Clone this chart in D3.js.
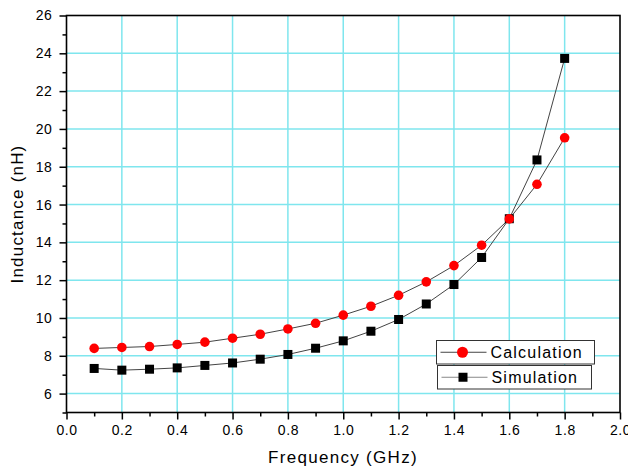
<!DOCTYPE html>
<html>
<head>
<meta charset="utf-8">
<script src="https://cdn.jsdelivr.net/npm/d3@7"></script>
<style>
  body { margin: 0; background: #fff; }
  svg { font-family: "Liberation Sans", Arial, sans-serif; }
</style>
</head>
<body>
<svg id="graph" width="628" height="466"></svg>
<script>
// data
var freq = [0.1, 0.2, 0.3, 0.4, 0.5, 0.6, 0.7, 0.8, 0.9, 1.0, 1.1, 1.2, 1.3, 1.4, 1.5, 1.6, 1.7, 1.8];
var calculation = [8.39, 8.44, 8.49, 8.6, 8.72, 8.93, 9.14, 9.42, 9.72, 10.15, 10.62, 11.2, 11.91, 12.77, 13.85, 15.24, 17.07, 19.53];
var simulation = [7.33, 7.24, 7.29, 7.36, 7.49, 7.62, 7.82, 8.07, 8.4, 8.79, 9.3, 9.92, 10.74, 11.77, 13.2, 15.25, 18.36, 23.73];
var xTicks = [0.0, 0.2, 0.4, 0.6, 0.8, 1.0, 1.2, 1.4, 1.6, 1.8, 2.0];
var yTicks = [6, 8, 10, 12, 14, 16, 18, 20, 22, 24, 26];
var seriesNames = ['Calculation', 'Simulation'];

var svg = d3.select('#graph');
var mLeft = 66.5, mRight = 620, mTop = 15.5, mBottom = 412.5;

var xScale = d3.scaleLinear().domain([0, 2]).range([mLeft, mRight]);
var yScale = d3.scaleLinear().domain([5, 26]).range([mBottom, mTop]);

/*************************************************************************/
// grid

var grid = svg.append('g');
grid.selectAll('line.gx').data(xTicks.slice(1, -1)).enter().append('line')
  .attr('class', 'gx')
  .attr('x1', d => xScale(d)).attr('x2', d => xScale(d))
  .attr('y1', mTop).attr('y2', mBottom)
  .style('stroke', '#7fe6ee').style('stroke-width', 1.5);
grid.selectAll('line.gy').data(yTicks.slice(0, -1)).enter().append('line')
  .attr('class', 'gy')
  .attr('x1', mLeft).attr('x2', mRight)
  .attr('y1', d => yScale(d)).attr('y2', d => yScale(d))
  .style('stroke', '#7fe6ee').style('stroke-width', 1.5);

/*************************************************************************/
// axes

var xAxis = d3.axisBottom(xScale).tickValues(xTicks).tickFormat(d3.format('.1f')).tickSize(7).tickPadding(6);
var xMinor = d3.axisBottom(xScale).tickValues(d3.range(1, 20, 2).map(d => d / 10)).tickFormat('').tickSize(4);
var yAxis = d3.axisLeft(yScale).tickValues(yTicks).tickFormat(d3.format('d')).tickSize(7).tickPadding(7);
var yMinor = d3.axisLeft(yScale).tickValues(d3.range(5, 26, 2)).tickFormat('').tickSize(4);

function styleAxis(g){
  g.select('.domain').remove();
  g.selectAll('.tick line').style('stroke', '#000').style('stroke-width', 1.5);
  g.selectAll('.tick text').style('font-size', '14px').style('fill', '#000')
    .style('letter-spacing', '0.6px').style('font-family', '"Liberation Sans", Arial, sans-serif');
}

svg.append('g').attr('transform', 'translate(0,' + mBottom + ')').call(xAxis).call(styleAxis);
svg.append('g').attr('transform', 'translate(0,' + mBottom + ')').call(xMinor).call(styleAxis);
svg.append('g').attr('transform', 'translate(' + mLeft + ',0)').call(yAxis).call(styleAxis);
svg.append('g').attr('transform', 'translate(' + mLeft + ',0)').call(yMinor).call(styleAxis);

svg.append('rect')
  .attr('x', mLeft).attr('y', mTop).attr('width', mRight - mLeft).attr('height', mBottom - mTop)
  .style('fill', 'none').style('stroke', '#000').style('stroke-width', 1.6);

svg.append('text').attr('x', 343).attr('y', 463)
  .attr('text-anchor', 'middle').style('font-size', '17px').style('letter-spacing', '1.3px')
  .text('Frequency (GHz)');
svg.append('text').attr('transform', 'translate(23,' + (mTop + mBottom) / 2 + ') rotate(-90)')
  .attr('text-anchor', 'middle').style('font-size', '17px').style('letter-spacing', '1.2px')
  .text('Inductance (nH)');

/*************************************************************************/
// series

var lineGen = d3.line();
var calcPts = freq.map((f, i) => [xScale(f), yScale(calculation[i])]);
var simPts = freq.map((f, i) => [xScale(f), yScale(simulation[i])]);

svg.append('path').attr('d', lineGen(simPts))
  .style('stroke', '#444').style('stroke-width', 1).style('fill', 'none');
svg.append('path').attr('d', lineGen(calcPts))
  .style('stroke', '#444').style('stroke-width', 1).style('fill', 'none');

svg.selectAll('rect.sim').data(simPts).enter().append('rect')
  .attr('class', 'sim')
  .attr('x', d => d[0] - 4.5).attr('y', d => d[1] - 4.5)
  .attr('width', 9).attr('height', 9)
  .style('fill', '#000');
svg.selectAll('circle.calc').data(calcPts).enter().append('circle')
  .attr('class', 'calc')
  .attr('cx', d => d[0]).attr('cy', d => d[1]).attr('r', 4.8)
  .style('fill', '#ff0000');

/*************************************************************************/
// legend

var legendBoxes = [
  { x: 436.5, y: 340.5, w: 158, h: 23.5 },
  { x: 437.5, y: 365.5, w: 154, h: 23.5 }
];
var legend = svg.append('g');
seriesNames.forEach((name, i) => {
  var b = legendBoxes[i];
  var cy = b.y + b.h / 2;
  legend.append('rect').attr('x', b.x).attr('y', b.y).attr('width', b.w).attr('height', b.h)
    .style('fill', '#fff').style('stroke', '#333').style('stroke-width', 1);
  legend.append('line').attr('x1', b.x + 4).attr('x2', b.x + 50).attr('y1', cy).attr('y2', cy)
    .style('stroke', i == 0 ? '#444' : '#888').style('stroke-width', 1);
  if(i == 0){
    legend.append('circle').attr('cx', b.x + 26).attr('cy', cy).attr('r', 5.5).style('fill', '#ff0000');
  }
  else {
    legend.append('rect').attr('x', b.x + 21).attr('y', cy - 4.5).attr('width', 9).attr('height', 9).style('fill', '#000');
  }
  legend.append('text').attr('x', b.x + 54).attr('y', cy + 6)
    .style('font-size', '16px').style('letter-spacing', '1.2px').text(name);
});
</script>
</body>
</html>
